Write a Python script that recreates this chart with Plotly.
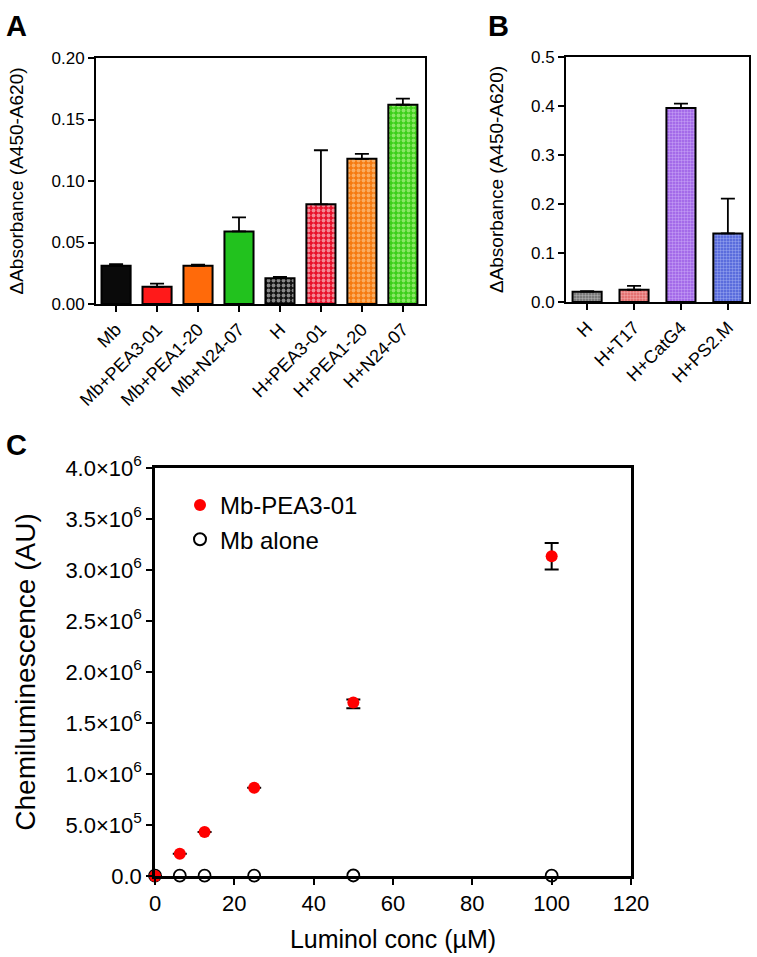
import plotly.graph_objects as go

# ---------------- Data ----------------
a_labels = ["Mb", "Mb+PEA3-01", "Mb+PEA1-20", "Mb+N24-07",
            "H", "H+PEA3-01", "H+PEA1-20", "H+N24-07"]
a_values = [0.031, 0.014, 0.031, 0.059, 0.021, 0.081, 0.118, 0.162]
a_errors = [0.0015, 0.0025, 0.001, 0.0115, 0.001, 0.044, 0.004, 0.005]
a_colors = ["#0a0a0a", "#ff1a1a", "#ff6a0a", "#22c21e",
            "#111111", "#e8102a", "#f57a10", "#3ccf1a"]
a_fg = [None, None, None, None, "#ffffff", "#ffffff", "#ffe0b0", "#d8ffb0"]

b_labels = ["H", "H+T17", "H+CatG4", "H+PS2.M"]
b_values = [0.021, 0.025, 0.396, 0.140]
b_errors = [0.001, 0.008, 0.009, 0.071]
b_colors = ["#6a6a6a", "#e06464", "#9a5ce6", "#4a5ed8"]
b_fg = ["#e8e8e8", "#ffd8d8", "#e6d4ff", "#d0d8ff"]

c_x = [0, 6.25, 12.5, 25, 50, 100]
c_pea = [0, 2.19e5, 4.31e5, 8.66e5, 1.70e6, 3.135e6]
c_pea_err_up = [0, 0, 0, 0, 0.03e6, 0.13e6]
c_pea_err_down = [0, 0, 0, 0, 0.055e6, 0.13e6]
c_alone = [3000, 3000, 3000, 4000, 5000, 4000]

c_yticks = [0, 5e5, 1e6, 1.5e6, 2e6, 2.5e6, 3e6, 3.5e6, 4e6]
c_yticktext = ["0.0", "5.0×10<sup>5</sup>", "1.0×10<sup>6</sup>", "1.5×10<sup>6</sup>",
               "2.0×10<sup>6</sup>", "2.5×10<sup>6</sup>", "3.0×10<sup>6</sup>",
               "3.5×10<sup>6</sup>", "4.0×10<sup>6</sup>"]

FONT = "Arial, Liberation Sans, sans-serif"
W, H = 757, 957


def px(xp):
    return xp / W


def py(yp):
    return 1 - yp / H


fig = go.Figure()

# ---------------- Panel A ----------------
for lab, v, e, col, fg in zip(a_labels, a_values, a_errors, a_colors, a_fg):
    pattern = dict(shape="") if fg is None else dict(shape=".", fgcolor=fg, bgcolor=col,
                                                   size=5, solidity=0.45, fillmode="overlay")
    fig.add_trace(go.Bar(
        x=[lab], y=[v], xaxis="x", yaxis="y", width=0.71,
        marker=dict(color=col, line=dict(color="black", width=2), pattern=pattern),
        error_y=dict(type="data", symmetric=False, array=[e], arrayminus=[0],
                     color="black", thickness=1.8, width=7),
        showlegend=False))

# ---------------- Panel B ----------------
for lab, v, e, col, fg in zip(b_labels, b_values, b_errors, b_colors, b_fg):
    fig.add_trace(go.Bar(
        x=[lab], y=[v], xaxis="x2", yaxis="y2", width=0.62,
        marker=dict(color=col, line=dict(color="black", width=2),
                    pattern=dict(shape=".", fgcolor=fg, bgcolor=col, size=3,
                                 solidity=0.5, fillmode="overlay")),
        error_y=dict(type="data", symmetric=False, array=[e], arrayminus=[0],
                     color="black", thickness=1.8, width=7),
        showlegend=False))

# ---------------- Panel C ----------------
fig.add_trace(go.Scatter(
    x=c_x, y=c_alone, xaxis="x3", yaxis="y3", mode="markers", name="Mb alone",
    marker=dict(symbol="circle-open", size=12, color="black", line=dict(width=1.8)),
    cliponaxis=False))
fig.add_trace(go.Scatter(
    x=c_x, y=c_pea, xaxis="x3", yaxis="y3", mode="markers", name="Mb-PEA3-01",
    marker=dict(symbol="circle", size=12, color="#ff0000"),
    error_y=dict(type="data", symmetric=False, array=c_pea_err_up,
                 arrayminus=c_pea_err_down, color="black", thickness=2, width=7),
    cliponaxis=False))

axis_common = dict(showline=True, linecolor="black", linewidth=2, mirror=True,
                   ticks="outside", ticklen=6, tickwidth=2, tickcolor="black",
                   showgrid=False, zeroline=False, automargin=False,
                   tickfont=dict(family=FONT, size=17, color="black"))

fig.update_layout(
    width=W, height=H,
    margin=dict(l=0, r=0, t=0, b=0, autoexpand=False),
    paper_bgcolor="white", plot_bgcolor="white",
    font=dict(family=FONT, color="black"),
    xaxis=dict(domain=[px(96), px(425)], anchor="y", range=[-0.49, 7.54],
               tickangle=-45,
               **{**axis_common, "tickfont": dict(family=FONT, size=18, color="black")}),
    yaxis=dict(domain=[py(304), py(58)], anchor="x", range=[0, 0.2],
               tickvals=[0, 0.05, 0.10, 0.15, 0.20], tickformat=".2f",
               title=dict(text="ΔAbsorbance (A450-A620)", standoff=23,
                          font=dict(family=FONT, size=19, color="black")),
               **axis_common),
    xaxis2=dict(domain=[px(566), px(749)], anchor="y2", range=[-0.45, 3.45],
                tickangle=-45,
                **{**axis_common, "tickfont": dict(family=FONT, size=18, color="black")}),
    yaxis2=dict(domain=[py(302), py(57)], anchor="x2", range=[0, 0.5],
                tickvals=[0, 0.1, 0.2, 0.3, 0.4, 0.5], tickformat=".1f",
                title=dict(text="ΔAbsorbance (A450-A620)", standoff=22,
                           font=dict(family=FONT, size=19, color="black")),
                **axis_common),
    xaxis3=dict(domain=[px(155), px(631)], anchor="y3", range=[0, 120],
                tickvals=[0, 20, 40, 60, 80, 100, 120],
                title=dict(text="Luminol conc (µM)", standoff=16,
                           font=dict(family=FONT, size=25, color="black")),
                **{**axis_common, "linewidth": 2.5,
                   "tickfont": dict(family=FONT, size=22, color="black")}),
    yaxis3=dict(domain=[py(876), py(468)], anchor="x3", range=[0, 4e6],
                tickvals=c_yticks, ticktext=c_yticktext,
                title=dict(text="Chemiluminescence (AU)", standoff=22,
                           font=dict(family=FONT, size=28, color="black")),
                **{**axis_common, "linewidth": 2.5,
                   "tickfont": dict(family=FONT, size=22, color="black")}),
    legend=dict(x=px(180), y=py(483), xanchor="left", yanchor="top",
                traceorder="reversed", bgcolor="rgba(0,0,0,0)",
                font=dict(family=FONT, size=24, color="black"),
                itemsizing="constant", tracegroupgap=0),
    annotations=[
        dict(text="<b>A</b>", x=px(4), y=py(8), xref="paper", yref="paper",
             xanchor="left", yanchor="top", showarrow=False,
             font=dict(family=FONT, size=29, color="black")),
        dict(text="<b>B</b>", x=px(486), y=py(8), xref="paper", yref="paper",
             xanchor="left", yanchor="top", showarrow=False,
             font=dict(family=FONT, size=29, color="black")),
        dict(text="<b>C</b>", x=px(4), y=py(427), xref="paper", yref="paper",
             xanchor="left", yanchor="top", showarrow=False,
             font=dict(family=FONT, size=29, color="black")),
    ],
)

fig.write_html("out.html", config={"displayModeBar": False},
               post_script="document.body.style.margin='0';document.body.style.overflow='hidden';")
